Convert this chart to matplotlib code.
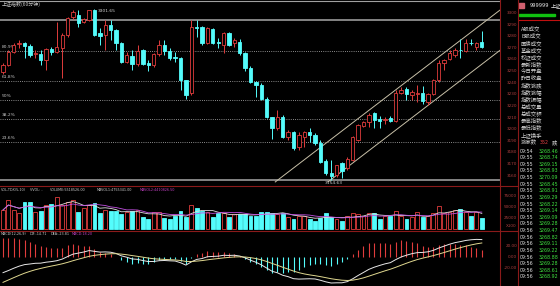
import numpy as np
import pandas as pd
import matplotlib
matplotlib.use('Agg')
import matplotlib.pyplot as plt
from matplotlib.patches import Rectangle

plt.rcParams['font.family'] = ['Noto Sans CJK SC', 'DejaVu Sans']

# 60分钟K线 (上证指数)
opens = [3247.5, 3253.5, 3264.7, 3271.6, 3272.4, 3269.8, 3263.0, 3263.0, 3257.8, 3267.3,
         3264.7, 3268.1, 3279.3, 3294.8, 3296.5, 3290.5, 3292.2, 3300.8, 3281.0, 3279.3,
         3287.9, 3283.6, 3272.4, 3256.1, 3261.2, 3254.4, 3266.4, 3255.2, 3253.5, 3263.0,
         3270.7, 3265.5, 3260.4, 3259.5, 3240.6, 3229.4, 3286.2, 3286.2, 3272.4, 3284.5,
         3273.3, 3270.7, 3281.0, 3272.4, 3273.3, 3263.8, 3250.9, 3238.9, 3236.3, 3224.3,
         3208.8, 3199.3, 3208.8, 3191.6, 3195.9, 3183.0, 3191.6, 3195.9, 3193.3, 3186.4,
         3171.0, 3160.6, 3158.9, 3169.2, 3164.9, 3171.8, 3189.0, 3201.0, 3204.5, 3212.2,
         3207.0, 3206.2, 3207.9, 3205.3, 3229.4, 3232.9, 3227.7, 3228.2, 3229.4, 3221.7,
         3228.6, 3240.6, 3255.2, 3258.7, 3262.1, 3266.8, 3265.5, 3272.8, 3269.0, 3273.3]
highs = [3255.2, 3266.4, 3272.4, 3275.0, 3273.3, 3271.6, 3266.4, 3266.4, 3268.1, 3269.0,
         3290.5, 3281.0, 3294.8, 3300.8, 3300.8, 3293.9, 3301.2, 3301.65, 3285.3, 3292.2,
         3292.2, 3284.5, 3273.3, 3264.7, 3266.4, 3270.7, 3267.3, 3257.8, 3263.8, 3275.0,
         3275.0, 3268.1, 3264.7, 3260.4, 3240.6, 3292.2, 3292.2, 3287.0, 3286.2, 3285.3,
         3276.7, 3281.9, 3281.9, 3276.7, 3275.9, 3264.7, 3252.6, 3239.7, 3238.0, 3226.0,
         3208.8, 3214.8, 3210.5, 3197.6, 3196.7, 3195.9, 3196.7, 3199.3, 3195.0, 3189.0,
         3172.7, 3171.8, 3167.5, 3170.1, 3174.4, 3192.4, 3202.8, 3205.3, 3212.2, 3213.1,
         3209.6, 3208.8, 3209.6, 3232.0, 3234.6, 3234.6, 3232.0, 3236.3, 3235.4, 3229.4,
         3241.5, 3257.8, 3258.7, 3266.4, 3268.1, 3275.9, 3275.9, 3275.9, 3273.3, 3282.7]
lows = [3245.8, 3252.6, 3263.8, 3268.1, 3259.5, 3260.4, 3259.5, 3253.5, 3249.2, 3262.1,
        3263.8, 3242.3, 3277.6, 3293.1, 3286.2, 3289.6, 3291.3, 3278.4, 3270.7, 3266.4,
        3275.0, 3266.4, 3255.2, 3255.2, 3249.2, 3252.6, 3253.5, 3248.3, 3251.8, 3261.2,
        3262.1, 3257.8, 3256.1, 3232.0, 3224.3, 3227.7, 3277.6, 3270.7, 3271.6, 3271.6,
        3268.1, 3263.8, 3269.8, 3269.0, 3262.1, 3248.3, 3238.0, 3226.0, 3223.4, 3207.9,
        3189.8, 3197.6, 3190.7, 3189.0, 3180.4, 3180.4, 3183.0, 3187.3, 3184.7, 3169.2,
        3158.9, 3154.6, 3157.2, 3156.3, 3163.2, 3171.0, 3188.1, 3200.2, 3200.2, 3199.3,
        3199.3, 3202.8, 3204.5, 3204.5, 3228.6, 3223.4, 3223.4, 3221.7, 3220.0, 3219.1,
        3227.7, 3238.9, 3249.2, 3257.8, 3260.4, 3259.5, 3264.7, 3270.7, 3266.4, 3268.1]
closes = [3253.5, 3264.7, 3270.7, 3272.4, 3269.8, 3262.1, 3263.8, 3257.8, 3267.3, 3264.7,
          3269.0, 3279.3, 3293.9, 3299.1, 3289.6, 3293.1, 3300.8, 3279.3, 3278.4, 3287.9,
          3283.6, 3272.4, 3256.1, 3262.1, 3254.4, 3265.5, 3254.4, 3253.5, 3263.0, 3270.7,
          3265.5, 3259.5, 3259.5, 3240.6, 3227.7, 3286.2, 3285.3, 3272.4, 3285.3, 3272.4,
          3272.4, 3281.0, 3270.7, 3275.0, 3263.8, 3250.9, 3238.9, 3236.3, 3224.3, 3208.8,
          3199.3, 3208.8, 3191.6, 3195.9, 3182.1, 3193.3, 3195.9, 3193.3, 3186.4, 3170.1,
          3160.6, 3158.0, 3167.5, 3162.3, 3172.7, 3191.6, 3201.9, 3204.5, 3210.5, 3206.2,
          3205.3, 3207.0, 3205.3, 3229.4, 3232.0, 3228.6, 3230.3, 3229.0, 3222.5, 3228.6,
          3240.6, 3255.2, 3257.8, 3263.8, 3266.4, 3266.0, 3272.4, 3272.0, 3272.4, 3268.92]
# 成交量 (x100)
volumes = [43200, 65900, 43200, 36400, 61400, 61400, 38600, 40900, 54600, 56800,
           72700, 54600, 61400, 65900, 38600, 47700, 54600, 59100, 36400, 43200,
           40900, 40900, 34100, 38600, 40900, 43200, 27300, 22700, 38600, 38600,
           25000, 22700, 29500, 40900, 27300, 54600, 47700, 40900, 38600, 27300,
           36400, 36400, 27300, 34100, 34100, 34100, 29500, 29500, 38600, 38600,
           36400, 34100, 36400, 27300, 22700, 29500, 29500, 22700, 18200, 25000,
           36400, 27300, 22700, 18200, 29500, 36400, 34100, 29500, 36400, 36400,
           22700, 29500, 29500, 40900, 29500, 22700, 27300, 38600, 27300, 29500,
           36400, 52300, 36400, 38600, 43200, 45500, 38600, 29500, 38600, 25000]

high_label = "3301.65"
low_label = "3154.63"
fib_hi, fib_lo = 3292.2, 3154.6
fib_levels = [0.809, 0.618, 0.5, 0.382, 0.236]
fib_names = ["80.9%", "61.8%", "50%", "38.2%", "23.6%"]
# 通道线端点 (K线序号, 指数)
chan_up = [(50.6, 3152.9), (92.4, 3300.8)]
chan_dn = [(60.4, 3152.9), (92.4, 3266.2)]
dif0, dea0 = -14.71, -23.81

price_ticks = list(range(3160, 3301, 10))
vol_ticks = ["75000", "50000", "25000", "X100"]
macd_ticks = ["20.00", "0.00", "-20.00"]

side_names = ["A股成交", "B股成交", "国债成交", "基金成交", "权证成交", "最新指数", "今日开盘",
              "昨日收盘", "指数涨跌", "指数涨幅", "指数振幅", "总成交量", "总成交额", "最高指数",
              "最低指数", "上证换手"]
tick_times = ["09:54"] + ["09:55"] * 10 + ["09:56"] * 9
tick_prices = ["3268.46", "3268.74", "3269.15", "3268.93", "3270.09", "3268.45", "3268.91",
               "3269.29", "3268.22", "3269.14", "3269.09", "3269.28", "3269.47", "3268.82",
               "3269.11", "3269.22", "3268.88", "3269.28", "3268.61", "3268.92"]

RED = '#e03c3c'
CYAN = '#54fcfc'
W, H = 560, 286

fig = plt.figure(figsize=(5.6, 2.86), dpi=100, facecolor='black')


def box(x0, y0, x1, y1):
    return [x0 / W, 1 - y1 / H, (x1 - x0) / W, (y1 - y0) / H]


def px(x, y):
    return x / W, 1 - y / H


ax = fig.add_axes(box(0, 0, 500, 184))
axv = fig.add_axes(box(0, 186, 500, 230))
axm = fig.add_axes(box(0, 231, 500, 286))
for a in (ax, axv, axm):
    a.set_facecolor('black')
    a.set_xticks([])
    a.set_yticks([])
    for s in a.spines.values():
        s.set_visible(False)
    a.set_xlim(-0.56, 92.38)

n = len(closes)
xs = np.arange(n)
up = [closes[i] >= opens[i] for i in range(n)]
bw = 0.62

# 主图K线
for i in range(n):
    col = RED if up[i] else CYAN
    ax.vlines(i, lows[i], highs[i], color=col, lw=0.7, zorder=3)
    lo_b, hi_b = min(opens[i], closes[i]), max(opens[i], closes[i])
    ax.add_patch(Rectangle((i - bw / 2, lo_b), bw, max(hi_b - lo_b, 0.15),
                           facecolor='black' if up[i] else CYAN, edgecolor=col,
                           lw=0.6, zorder=4))

ax.set_ylim(3309.39 - 0.86 * 184, 3309.39)
ax.axhline(3309.39 - 0.86, color='#a0a0a0', lw=0.8)

# 黄金分割
ax.axhline(fib_hi, color='#9a9a9a', lw=1.2, zorder=2)
ax.axhline(fib_lo, color='#9a9a9a', lw=1.2, zorder=2)
for lv, name in zip(fib_levels, fib_names):
    yv = fib_lo + lv * (fib_hi - fib_lo)
    ax.axhline(yv, color='#b8b8b8', lw=0.6, ls=(0, (1, 1.6)), zorder=2)
    ax.text(0.004, yv + 1.5, name, transform=ax.get_yaxis_transform(), color='#c8c8c8',
            fontsize=3.2, va='bottom', ha='left', family='DejaVu Sans')

for c in (chan_up, chan_dn):
    ax.plot([c[0][0], c[1][0]], [c[0][1], c[1][1]], color='#c8c0a8', lw=0.7, zorder=2)

ax.text(17.6, 3301.65, high_label, color='#d0d0d0', fontsize=3.2, va='top', ha='left',
        family='DejaVu Sans', zorder=5)
ax.text(61.4, 3154.6 - 0.5, low_label, color='#d0d0d0', fontsize=3.2, va='top', ha='center',
        family='DejaVu Sans', zorder=5)

# 成交量
for i in range(n):
    col = RED if up[i] else CYAN
    axv.add_patch(Rectangle((i - 0.36, 0), 0.72, volumes[i],
                            facecolor='black' if up[i] else CYAN, edgecolor=col, lw=0.6))
vs = pd.Series(volumes, dtype=float)
axv.plot(xs, vs.rolling(5, min_periods=1).mean(), color='#e0e0e0', lw=0.6)
axv.plot(xs, vs.rolling(10, min_periods=1).mean(), color='#c050e0', lw=0.6)
axv.set_ylim(-2273, 43 * 2273)

# MACD(12,26,9)
c = np.array(closes)
e12 = np.zeros(n)
e26 = np.zeros(n)
dea = np.zeros(n)
e12[0] = c[0]
e26[0] = c[0] - dif0
dea[0] = dea0
for i in range(1, n):
    e12[i] = e12[i - 1] + 2 / 13 * (c[i] - e12[i - 1])
    e26[i] = e26[i - 1] + 2 / 27 * (c[i] - e26[i - 1])
dif = e12 - e26
for i in range(1, n):
    dea[i] = dea[i - 1] + 2 / 10 * (dif[i] - dea[i - 1])
macd = 2 * (dif - dea)
axm.vlines(xs, 0, macd, colors=[RED if m >= 0 else CYAN for m in macd], lw=0.8)
axm.plot(xs, dif, color='#e8e8e8', lw=0.7)
axm.plot(xs, dea, color='#e0d890', lw=0.7)
k = max(-min(dif.min(), dea.min()) / 26, max(dif.max(), dea.max(), macd.max()) / 20)
axm.set_ylim(-29 * k, 26 * k)

# 边框线
fig.add_artist(plt.Line2D([500 / W] * 2, [0, 1], color='#8a1a1a', lw=0.8))
fig.add_artist(plt.Line2D([518 / W] * 2, [0, 1], color='#8a1a1a', lw=0.8))
for yy in (185.5, 230.5):
    fig.add_artist(plt.Line2D([0, 518 / W], [1 - yy / H] * 2, color='#8a1a1a', lw=0.8))

# 右侧坐标
for p in price_ticks:
    ax.text(517 / 500, p, str(p), transform=ax.get_yaxis_transform(), color='#b04040',
            fontsize=3.0, ha='right', va='top', family='DejaVu Sans', clip_on=False)
for t, yy in zip(vol_ticks, (196, 207, 218, 226)):
    fig.text(*px(517, yy), t, color='#b04040', fontsize=3.0, ha='right', va='center',
             family='DejaVu Sans')
for t, yy in zip(macd_ticks, (246, 257, 268)):
    fig.text(*px(517, yy), t, color='#b04040', fontsize=3.0, ha='right', va='center',
             family='DejaVu Sans')

# 标题
fig.text(*px(2, 4.5), "上证指数(60分钟)", color='#c8c8c8', fontsize=3.6, va='center')
vt = [(1, "VOL-TDX(5,10)", '#c8c8c8'), (30, "VVOL: -", '#c8c8c8'),
      (50, "VOLUME:5518526.00", '#c8c8c8'), (97, "MAVOL1:4755341.00", '#c8c8c8'),
      (140, "MAVOL2:4410826.50", '#c040c0')]
for x, t, col in vt:
    fig.text(*px(x, 190), t, color=col, fontsize=2.4, va='center', family='DejaVu Sans')
mt = [(1, "MACD(12,26,9)", '#c8c8c8'), (30, "DIF:-14.71", '#c8c8c8'),
      (51, "DEA:-23.81", '#c8c8c8'), (72, "MACD:18.20", '#c040c0')]
for x, t, col in mt:
    fig.text(*px(x, 234), t, color=col, fontsize=2.4, va='center', family='DejaVu Sans')

# 右侧信息栏
fig.add_artist(Rectangle(px(519, 8), 5 / W, 5 / H, color='#d06070'))
fig.text(*px(530, 5.5), "999999", color='#e8e8e8', fontsize=3.6, va='center',
         family='DejaVu Sans')
fig.text(*px(551, 5.5), "上证", color='#e8e8e8', fontsize=3.8, va='center')
fig.add_artist(Rectangle(px(519, 16), 36 / W, 2 / H, color='#10c010'))
fig.add_artist(plt.Line2D([519 / W, 1], [1 - 19.5 / H] * 2, color='#c01010', lw=0.8))
for j, name in enumerate(side_names):
    fig.text(*px(521, 29 + 7.06 * j), name, color='#d0d0d0', fontsize=3.9, va='center')
fig.text(*px(521, 142), "涨家数", color='#d0d0d0', fontsize=3.9, va='center')
fig.text(*px(540, 142), "352", color='#e04040', fontsize=3.4, va='center', family='DejaVu Sans')
fig.text(*px(552, 142), "跌", color='#d0d0d0', fontsize=3.9, va='center')
for j, (t, p) in enumerate(zip(tick_times, tick_prices)):
    yy = 151 + 6.63 * j
    fig.text(*px(520, yy), t, color='#e0e0e0', fontsize=3.4, va='center', family='DejaVu Sans')
    fig.text(*px(539, yy), p, color='#40e040', fontsize=3.4, va='center', family='DejaVu Sans')

fig.savefig('out.png', dpi=100, facecolor='black')
